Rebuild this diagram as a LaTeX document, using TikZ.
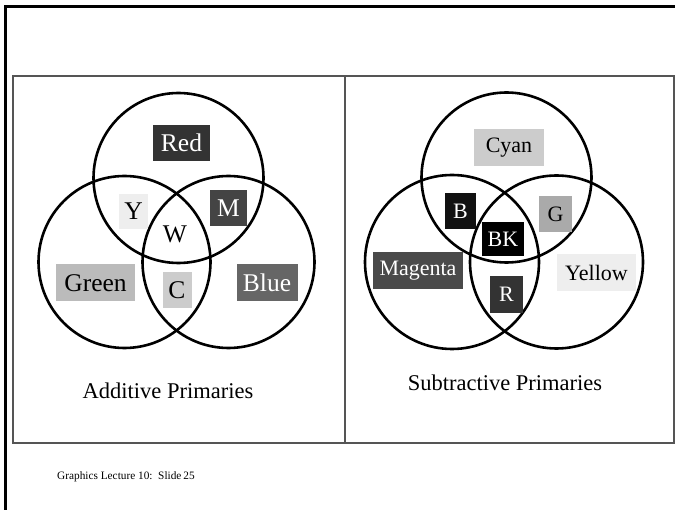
\documentclass[tikz,border=0pt]{standalone}
\usepackage{fontspec}
\setmainfont{Liberation Serif}
\definecolor{frameblk}{HTML}{000000}
\definecolor{tablegray}{HTML}{555555}
\definecolor{cA}{HTML}{333333}
\definecolor{cB}{HTML}{EEEEEE}
\definecolor{cC}{HTML}{444444}
\definecolor{cD}{HTML}{BBBBBB}
\definecolor{cE}{HTML}{CCCCCC}
\definecolor{cF}{HTML}{666666}
\definecolor{cG}{HTML}{111111}
\definecolor{cH}{HTML}{AAAAAA}
\definecolor{cI}{HTML}{4A4A4A}
\tikzset{
  venn/.style={draw=black, line width=2.6pt},
  lbox/.style={inner sep=0pt, anchor=center, font=\fontsize{25.5}{28}\selectfont},
  rbox/.style={inner sep=0pt, anchor=center, font=\fontsize{22}{26}\selectfont},
  caption/.style={inner sep=0pt, anchor=center, font=\fontsize{22.5}{26}\selectfont},
}
\begin{document}
\begin{tikzpicture}[x=1pt,y=-1pt]
\useasboundingbox (0,0) rectangle (675,510);
% outer slide frame
\draw[line width=3pt, frameblk] (5.5,510) -- (5.5,7) -- (675,7);
% table
\draw[line width=2.5pt, tablegray] (13,76) rectangle (674,443);
\draw[line width=2pt, tablegray] (345,76) -- (345,443);
% left Venn
\draw[venn] (178.5,178) circle (85);
\draw[venn] (124.5,262) circle (86);
\draw[venn] (228.5,262) circle (86);
% right Venn
\draw[venn] (506.5,177.5) circle (85);
\draw[venn] (452,262) circle (87);
\draw[venn] (556.5,262) circle (86.5);
% left labels
\node[lbox, fill=cA, text=white, minimum width=57pt, minimum height=36pt] (red) at (181.5,143) {Red};
\node[lbox, fill=cB, text=black, minimum width=29pt, minimum height=35pt] (y) at (133.5,211.5) {Y};
\node[lbox, fill=cC, text=white, minimum width=37pt, minimum height=36pt] (m) at (228.5,208.5) {M};
\node[lbox, text=black] (w) at (175,234) {W};
\node[lbox, fill=cD, text=black, minimum width=79pt, minimum height=37pt] (green) at (95.5,283) {Green};
\node[lbox, fill=cE, text=black, minimum width=29pt, minimum height=36pt] (c) at (177,290.5) {C};
\node[lbox, fill=cF, text=white, minimum width=61pt, minimum height=37pt] (blue) at (267,283) {Blue};
\node[caption] (add) at (168,391) {Additive Primaries};
% right labels
\node[rbox, fill=cE, text=black, minimum width=70pt, minimum height=37pt] (cyan) at (509,147.5) {Cyan};
\node[rbox, fill=cG, text=white, minimum width=31pt, minimum height=36pt] (b) at (460.5,211) {B};
\node[rbox, fill=black, text=white, minimum width=42pt, minimum height=34pt] (bk) at (503,239) {BK};
\node[rbox, fill=cH, text=black, minimum width=33pt, minimum height=36pt] (g) at (555.5,214) {G};
\node[rbox, fill=cI, text=white, minimum width=90pt, minimum height=37pt] (magenta) at (418,270.5) {Magenta};
\node[rbox, fill=cA, text=white, minimum width=33pt, minimum height=37pt] (r) at (506.5,294.5) {R};
\node[rbox, fill=cB, text=black, minimum width=79pt, minimum height=37pt] (yellow) at (596.5,272.5) {Yellow};
\node[caption] (sub) at (505,383) {Subtractive Primaries};
% footer
\node[inner sep=0pt, anchor=west, font=\fontsize{11.3}{13}\selectfont] (foot) at (57,477) {Graphics Lecture 10:\ \ Slide\,25};
\end{tikzpicture}
\end{document}
